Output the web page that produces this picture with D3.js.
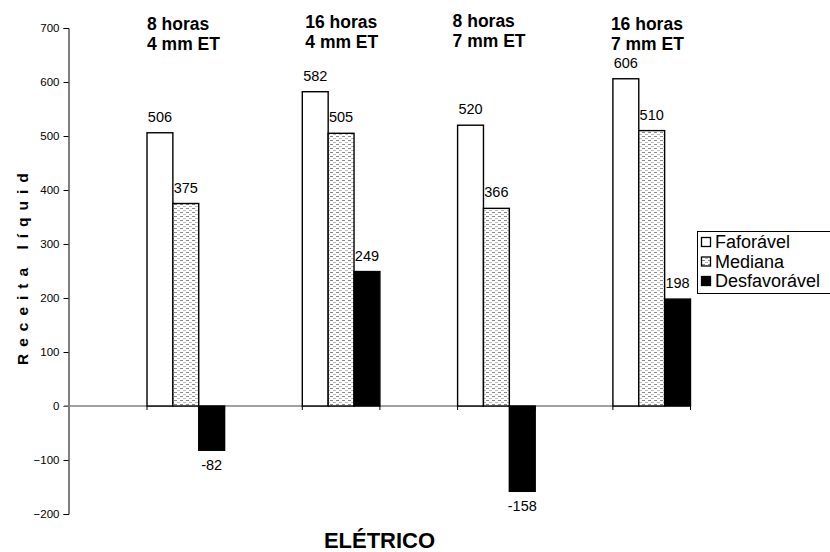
<!DOCTYPE html>
<html>
<head>
<meta charset="utf-8">
<script src="https://cdn.jsdelivr.net/npm/d3@7"></script>
<style>
  html, body { margin: 0; padding: 0; background: #fff; }
  svg { display: block; font-family: "Liberation Sans", Arial, sans-serif; }
</style>
</head>
<body>
<svg id="chart" width="830" height="552"></svg>
<script>
// Scenario groups (hours of irrigation / ET depth)
const groups = ["8h4", "16h4", "8h7", "16h7"];
const groupLines = [["8 horas", "4 mm ET"], ["16 horas", "4 mm ET"], ["8 horas", "7 mm ET"], ["16 horas", "7 mm ET"]];
const series = ["Faforável", "Mediana", "Desfavorável"];
// Net revenue per scenario, one array per series
const favoravel = [506, 582, 520, 606];
const mediana = [375, 505, 366, 510];
const desfavoravel = [-82, 249, -158, 198];
const yTicks = [-200, -100, 0, 100, 200, 300, 400, 500, 600, 700];
const yTitle = "Receita líquida";
const xTitle = "ELÉTRICO";

const values = [favoravel, mediana, desfavoravel];

const svg = d3.select("#chart");

// Pattern for the median series: fine grey dashes on white
const defs = svg.append("defs");
const pat = defs.append("pattern")
  .attr("id", "stipple").attr("patternUnits", "userSpaceOnUse")
  .attr("width", 6).attr("height", 4);
pat.append("rect").attr("width", 6).attr("height", 4).attr("fill", "#fff");
pat.append("rect").attr("x", 0).attr("y", 0).attr("width", 3).attr("height", 1).attr("fill", "#888");
pat.append("rect").attr("x", 3).attr("y", 2).attr("width", 3).attr("height", 1).attr("fill", "#bbb");

const fills = ["#fff", "url(#stipple)", "#000"];

const y = d3.scaleLinear().domain([-200, 700]).range([514, 28]);
const x0 = d3.scaleBand().domain(groups).range([147, 768.2]).padding(0);
const x1 = d3.scaleBand().domain(series).range([0, 77.6]).padding(0);

// Y axis
const yAxis = d3.axisLeft(y).tickValues(yTicks).tickSize(5).tickPadding(4);
const gy = svg.append("g").attr("transform", "translate(68.5,0)").call(yAxis);
gy.select(".domain").attr("stroke", "#000").attr("stroke-width", 1);
gy.selectAll(".tick line").attr("stroke", "#000");
gy.selectAll(".tick text").attr("font-size", 11.5).attr("fill", "#000")
  .attr("font-family", "'Liberation Sans', Arial, sans-serif");

// Zero line (category axis) from the value axis to the last group
const lastEnd = x0(groups[groups.length - 1]) + x1.range()[1];
svg.append("line")
  .attr("x1", 64).attr("x2", lastEnd)
  .attr("y1", y(0)).attr("y2", y(0))
  .attr("stroke", "#808080").attr("stroke-width", 1.6);

// Group boundary ticks under the zero line
groups.forEach(g => {
  [x0(g), x0(g) + x1.range()[1]].forEach(px => {
    svg.append("line")
      .attr("x1", px).attr("x2", px)
      .attr("y1", y(0)).attr("y2", y(0) + 4)
      .attr("stroke", "#000").attr("stroke-width", 1);
  });
});

// Bars
series.forEach((s, si) => {
  const gs = svg.append("g");
  groups.forEach((g, gi) => {
    const v = values[si][gi];
    const bx = x0(g) + x1(s);
    gs.append("rect")
      .attr("x", bx).attr("width", x1.bandwidth())
      .attr("y", y(Math.max(0, v)))
      .attr("height", Math.abs(y(v) - y(0)))
      .attr("fill", fills[si])
      .attr("stroke", "#000").attr("stroke-width", 1.4);
  });
});

// Value labels
series.forEach((s, si) => {
  groups.forEach((g, gi) => {
    const v = values[si][gi];
    const cx = x0(g) + x1(s) + x1.bandwidth() / 2;
    svg.append("text")
      .attr("x", cx)
      .attr("y", v >= 0 ? y(v) - 11 : y(v) + 20)
      .attr("text-anchor", "middle")
      .attr("font-size", 14.5)
      .attr("fill", "#000")
      .text(v);
  });
});

// Scenario headings above each group
const headShift = [[0, 0], [3, -2], [-5, -3], [-2, 0]];
groups.forEach((g, gi) => {
  const t = svg.append("text")
    .attr("x", x0(g) + headShift[gi][0])
    .attr("y", 30 + headShift[gi][1])
    .attr("font-size", 17.5).attr("font-weight", "bold").attr("fill", "#000");
  groupLines[gi].forEach((line, li) => {
    t.append("tspan").attr("x", x0(g) + headShift[gi][0]).attr("dy", li === 0 ? 0 : 20).text(line);
  });
});

// Y axis title (spaced lettering, clipped at the top)
defs.append("clipPath").attr("id", "ytclip")
  .append("rect").attr("x", 0).attr("y", 174).attr("width", 60).attr("height", 300);
svg.append("g").attr("clip-path", "url(#ytclip)")
  .append("text")
  .attr("transform", "translate(28,365) rotate(-90)")
  .attr("font-size", 15.5).attr("font-weight", "bold")
  .attr("letter-spacing", 7)
  .attr("fill", "#000")
  .text(yTitle);

// X axis title
svg.append("text")
  .attr("x", 379.5).attr("y", 548)
  .attr("text-anchor", "middle")
  .attr("font-size", 22).attr("font-weight", "bold").attr("fill", "#000")
  .text(xTitle);

// Legend
const lg = svg.append("g");
lg.append("rect").attr("x", 697.5).attr("y", 231.5).attr("width", 140).attr("height", 62)
  .attr("fill", "#fff").attr("stroke", "#000").attr("stroke-width", 1);
series.forEach((s, si) => {
  const cy = 242 + si * 19.5;
  lg.append("rect").attr("x", 701.5).attr("y", cy - 4.5).attr("width", 9).attr("height", 9)
    .attr("fill", fills[si]).attr("stroke", "#000").attr("stroke-width", 1.3);
  lg.append("text").attr("x", 715).attr("y", cy + 6)
    .attr("font-size", 18).attr("fill", "#000").text(s);
});
</script>
</body>
</html>
